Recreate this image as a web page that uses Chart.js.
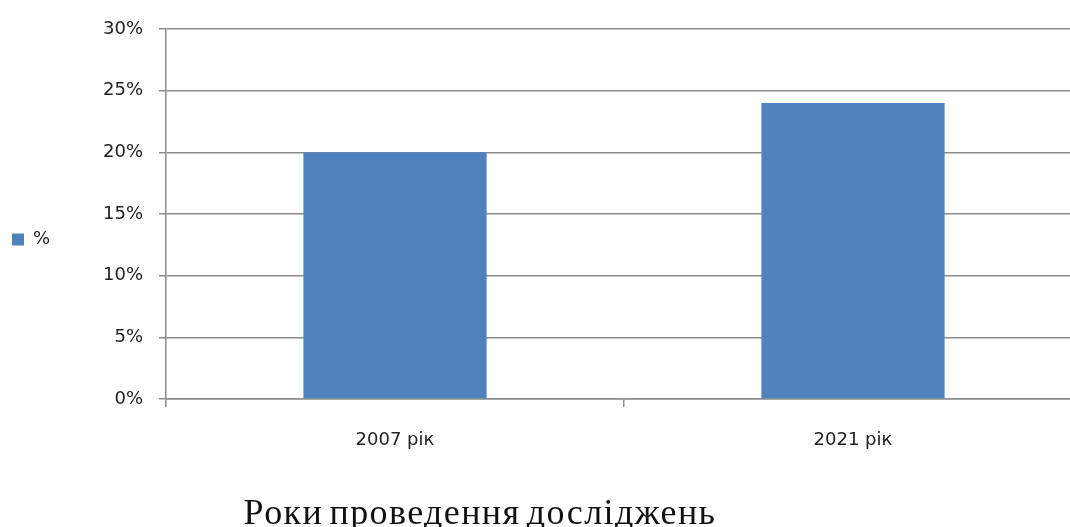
<!DOCTYPE html>
<html>
<head>
<meta charset="utf-8">
<script src="https://cdn.jsdelivr.net/npm/chart.js@4.4.1/dist/chart.umd.min.js"></script>
<style>
body{margin:0;background:#fff;overflow:hidden;}
#wrap{width:1082px;height:527px;}
</style>
</head>
<body>
<div id="wrap"><canvas id="chart" width="1082" height="527"></canvas></div>
<script>

/* DATA */

const years=["2007 рік","2021 рік"];
const percents=[20,24];
const seriesName="%";
const axisTitle="Роки проведення досліджень";


/* BOTTOM TITLE */

const bottomTitle={
id:"bottomTitle",
afterDraw(chart){
const ctx=chart.ctx;
ctx.save();
ctx.font="36px 'Liberation Serif'";
ctx.letterSpacing="1.4px";
ctx.wordSpacing="-4px";
ctx.fillStyle="#111";
ctx.textAlign="center";
ctx.textBaseline="alphabetic";
ctx.fillText(axisTitle,480,524);
ctx.restore();
}
};


/* CHART */

const gridColor="#8c8c8c";
const tickFont={family:"'DejaVu Sans'",size:18};

new Chart(document.getElementById("chart"),{

type:"bar",

data:{
labels:years,
datasets:[{
label:seriesName,
data:percents,
backgroundColor:"#4f81bd",
borderWidth:0,
barPercentage:0.4,
categoryPercentage:1
}]
},

options:{
responsive:false,
animation:false,

layout:{
padding:{top:29,right:0,bottom:77,left:0}
},

plugins:{
legend:{
position:"left",
labels:{
boxWidth:12,
boxHeight:12,
padding:12,
color:"#222",
font:{family:"'DejaVu Sans'",size:18}
}
},
tooltip:{enabled:false}
},

scales:{
x:{
grid:{
offset:true,
drawOnChartArea:false,
drawTicks:true,
tickLength:8,
color:gridColor,
lineWidth:1.5
},
border:{color:gridColor,width:1.5},
ticks:{
color:"#222",
font:tickFont,
padding:23
},
afterFit(scale){
scale.height=51;
}
},

y:{
min:0,
max:30,
grid:{
color:gridColor,
lineWidth:1.5,
tickLength:7
},
border:{color:gridColor,width:1.5},
ticks:{
stepSize:5,
color:"#222",
font:tickFont,
padding:16,
callback:v=>v+"%"
},
afterFit(scale){
const lg=scale.chart.legend;
scale.width=166-(lg?lg.width:0);
}
}
}

},

plugins:[bottomTitle]

});

</script>
</body>
</html>
